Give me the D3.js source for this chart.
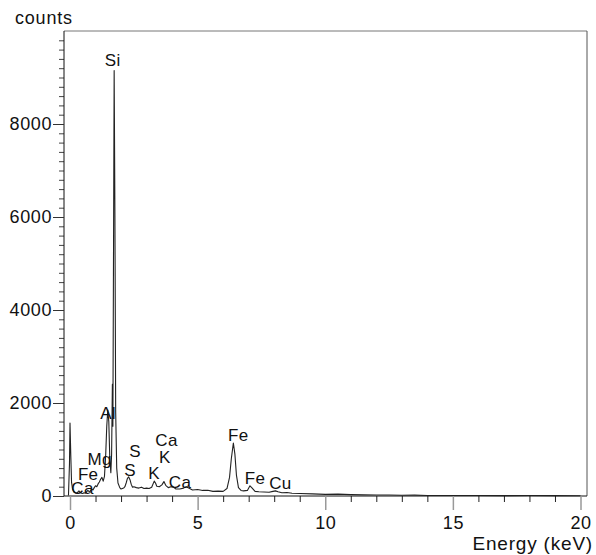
<!DOCTYPE html>
<html>
<head>
<meta charset="utf-8">
<script src="https://cdn.jsdelivr.net/npm/d3@7"></script>
<style>
  body { margin: 0; background: #fff; }
  svg text { font-family: "Liberation Sans", Arial, sans-serif; fill: #111; }
</style>
</head>
<body>
<div id="chart"></div>
<script>
// spettro EDX: energia (keV) e conteggi
const energy = [
  -0.06, -0.02, 0.0, 0.03, 0.06, 0.1, 0.15, 0.2, 0.25, 0.3, 0.35, 0.4, 0.45, 0.5, 0.55, 0.6,
  0.65, 0.7, 0.75, 0.8, 0.85, 0.9, 0.95, 1.0, 1.05, 1.1, 1.15, 1.2, 1.25, 1.3, 1.35, 1.4,
  1.44, 1.48, 1.52, 1.56, 1.6, 1.63, 1.66, 1.68, 1.7, 1.73, 1.76, 1.79, 1.83, 1.88, 1.95, 2.0,
  2.05, 2.1, 2.15, 2.2, 2.25, 2.3, 2.35, 2.4, 2.45, 2.5, 2.6, 2.7, 2.8, 2.9, 3.0, 3.1,
  3.2, 3.3, 3.35, 3.4, 3.5, 3.6, 3.68, 3.75, 3.85, 3.95, 4.05, 4.15, 4.3, 4.45, 4.55, 4.65,
  4.8, 5.0, 5.2, 5.4, 5.6, 5.8, 6.0, 6.15, 6.25, 6.32, 6.4, 6.46, 6.52, 6.6, 6.7, 6.8,
  6.95, 7.05, 7.12, 7.25, 7.4, 7.6, 7.8, 7.95, 8.05, 8.15, 8.3, 8.5, 8.7, 9.0, 9.5, 10.0,
  10.5, 11.0, 11.5, 12.0, 12.5, 13.0, 13.5, 14.0, 15.0, 16.0, 17.0, 18.0, 19.0, 20.0
];
const counts = [
  10, 700, 1570, 900, 300, 150, 90, 70, 60, 80, 110, 80, 60, 55, 70, 60,
  90, 120, 95, 110, 150, 130, 180, 220, 200, 260, 300, 360, 400, 320, 420, 900,
  1500, 1850, 1600, 800, 500, 900, 2400, 1500, 4500, 9150, 6000, 1800, 600, 280, 180, 150,
  160, 170, 200, 280, 380, 410, 350, 250, 190, 200, 180, 170, 190, 160, 170, 160,
  190, 320, 280, 210, 200, 240, 310, 230, 180, 200, 190, 150, 150, 170, 200, 170,
  130, 140, 120, 125, 100, 105, 100, 160, 400, 800, 1140, 900, 450, 180, 120, 110,
  120, 220, 180, 100, 90, 85, 80, 100, 110, 90, 70, 75, 60, 55, 45, 35,
  40, 30, 25, 22, 20, 15, 18, 12, 10, 10, 8, 12, 8, 5
];

// etichette dei picchi
const peakLabels = ["Si", "Al", "Mg", "Fe", "Ca", "S", "S", "Ca", "K", "K", "Ca", "Fe", "Fe", "Cu"];
const peakLabelEnergy = [1.67, 1.49, 1.16, 0.71, 0.49, 2.55, 2.35, 3.78, 3.71, 3.29, 4.31, 6.59, 7.25, 8.24];
const peakLabelCounts = [9250, 1660, 670, 340, 40, 840, 430, 1075, 710, 365, 170, 1180, 260, 150];

const xMajorTicks = [0, 5, 10, 15, 20];
const yMajorTicks = [0, 2000, 4000, 6000, 8000];

const width = 596;
const height = 555;
const plotLeft = 64, plotRight = 587, plotTop = 31, plotBottom = 496;

const x = d3.scaleLinear().domain([0, 20]).range([70, 580.5]);
const y = d3.scaleLinear().domain([0, 10000]).range([plotBottom, plotTop]);

const svg = d3.select("#chart").append("svg").attr("width", width).attr("height", height);

// cornice
svg.append("line").attr("x1", plotLeft).attr("x2", plotRight).attr("y1", plotTop).attr("y2", plotTop)
  .attr("stroke", "#777").attr("stroke-width", 1);
svg.append("line").attr("x1", plotRight).attr("x2", plotRight).attr("y1", plotTop).attr("y2", plotBottom)
  .attr("stroke", "#555").attr("stroke-width", 1);

// tick minori asse y
const yMinor = d3.range(0, 10001, 200).filter((v) => v % 2000 !== 0);
svg.append("g").attr("transform", `translate(${plotLeft},0)`)
  .call(d3.axisLeft(y).tickValues(yMinor).tickSize(5).tickFormat(""))
  .call((g) => g.select(".domain").remove())
  .call((g) => g.selectAll("line").attr("stroke", "#444"));

// tick maggiori asse y
svg.append("g").attr("transform", `translate(${plotLeft},0)`)
  .call(d3.axisLeft(y).tickValues(yMajorTicks).tickSize(11).tickPadding(1).tickFormat(d3.format("d")))
  .call((g) => g.select(".domain").attr("d", `M0,${plotTop}V${plotBottom}`).attr("stroke", "#111"))
  .call((g) => g.selectAll("line").attr("stroke", "#333"))
  .call((g) => g.selectAll("text").attr("font-size", 18).attr("letter-spacing", "0.6px")
    .attr("font-family", "Liberation Sans, Arial, sans-serif").attr("fill", "#111"));

// tick minori asse x
const xMinor = d3.range(1, 20).filter((v) => v % 5 !== 0);
svg.append("g").attr("transform", `translate(0,${plotBottom})`)
  .call(d3.axisBottom(x).tickValues(xMinor).tickSize(6).tickFormat(""))
  .call((g) => g.select(".domain").remove())
  .call((g) => g.selectAll("line").attr("stroke", "#222"));

// tick maggiori asse x
svg.append("g").attr("transform", `translate(0,${plotBottom})`)
  .call(d3.axisBottom(x).tickValues(xMajorTicks).tickSize(14).tickPadding(6).tickFormat(d3.format("d")))
  .call((g) => g.select(".domain").attr("d", `M${plotLeft},0H${plotRight}`).attr("stroke", "#111"))
  .call((g) => g.selectAll("line").attr("stroke", "#999").attr("stroke-width", 1.5))
  .call((g) => g.selectAll("text").attr("font-size", 18).attr("letter-spacing", "0.6px")
    .attr("font-family", "Liberation Sans, Arial, sans-serif").attr("fill", "#111"));

// spettro
const line = d3.line().x((d) => x(d[0])).y((d) => y(d[1]));
svg.append("path")
  .datum(energy.map((e, i) => [e, counts[i]]))
  .attr("d", line)
  .attr("fill", "none")
  .attr("stroke", "#222")
  .attr("stroke-width", 1.1)
  .attr("stroke-linejoin", "round");

// etichette dei picchi
svg.append("g").selectAll("text")
  .data(peakLabels)
  .join("text")
  .attr("x", (d, i) => x(peakLabelEnergy[i]))
  .attr("y", (d, i) => y(peakLabelCounts[i]))
  .attr("text-anchor", "middle")
  .attr("font-size", 17)
  .attr("letter-spacing", "0.3px")
  .text((d) => d);

// titoli degli assi
svg.append("text").attr("x", 15).attr("y", 24).attr("font-size", 18)
  .attr("letter-spacing", "0.8px").text("counts");
svg.append("text").attr("x", 593).attr("y", 550).attr("text-anchor", "end")
  .attr("font-size", 19).attr("letter-spacing", "0.8px").text("Energy (keV)");
</script>
</body>
</html>
